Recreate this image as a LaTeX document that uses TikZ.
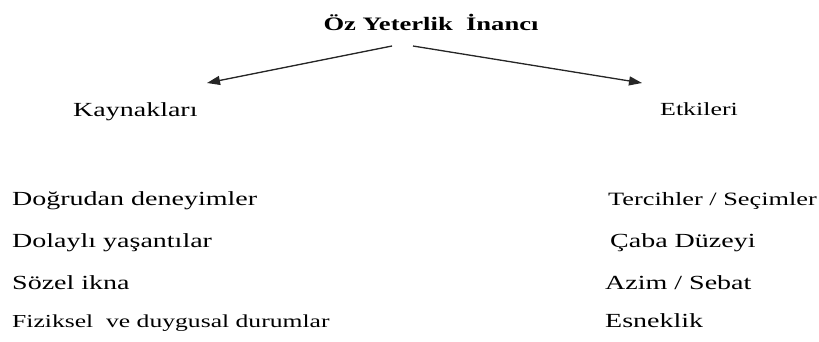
\documentclass[tikz,border=0pt]{standalone}
\usepackage{fontspec}
\setmainfont{Liberation Serif}[FakeStretch=1.4]
\usetikzlibrary{arrows.meta}
\begin{document}
\begin{tikzpicture}[x=1pt,y=-1pt,
  txt/.style={anchor=base west,inner sep=0pt,font=\fontsize{20}{24}\selectfont},
  arr/.style={-{Triangle[length=13pt,width=9pt]},line width=1.3pt,draw=black!85,fill=black}]
\useasboundingbox (0,0) rectangle (819,342);
\node[anchor=base,inner sep=0pt,font=\fontsize{19}{23}\selectfont\bfseries] (title) at (431,31) {Öz Yeterlik\ \ İnancı};
\coordinate (ls) at (392,46);
\coordinate (rs) at (413,46);
\node[txt] (kay) at (73,117) {Kaynakları};
\node[txt,font=\fontsize{18.5}{22}\selectfont] (etk) at (660,116) {Etkileri};
\coordinate (le) at (207,83);
\coordinate (re) at (642,83);
\draw[arr] (ls) -- (le);
\draw[arr] (rs) -- (re);
\node[txt] (l1) at (12,205) {Doğrudan deneyimler};
\node[txt] (l2) at (12,247) {Dolaylı yaşantılar};
\node[txt] (l3) at (12,289) {Sözel ikna};
\node[txt,font=\fontsize{18.3}{22}\selectfont] (l4) at (12,327) {Fiziksel\ \ ve duygusal durumlar};
\node[txt,font=\fontsize{18.8}{22}\selectfont] (r1) at (608,205) {Tercihler / Seçimler};
\node[txt] (r2) at (610,247) {Çaba Düzeyi};
\node[txt] (r3) at (605,289) {Azim / Sebat};
\node[txt] (r4) at (605,327) {Esneklik};
\end{tikzpicture}
\end{document}
